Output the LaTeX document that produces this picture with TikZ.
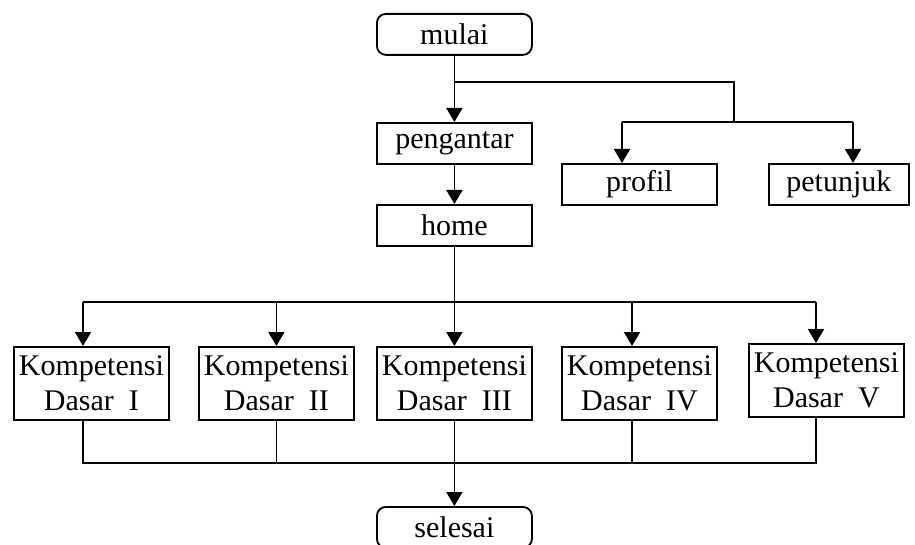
\documentclass[tikz,border=0pt]{standalone}
\usepackage{fontspec}
\setmainfont{Liberation Serif}
\usetikzlibrary{arrows.meta}
\begin{document}
\begin{tikzpicture}[x=1pt,y=-1pt,
  every node/.style={font=\fontsize{30}{35}\selectfont},
  box/.style={draw, line width=1.8pt, minimum width=155pt, minimum height=41pt,
    inner sep=0pt, anchor=north west, align=center},
  term/.style={box, rounded corners=9pt},
  kd/.style={box, minimum height=73pt},
  link/.style={line width=1.8pt},
  arr/.style={link, -{Triangle[length=14pt,width=16pt]}}]
\useasboundingbox (0,0) rectangle (915,545);

% nodes
\node[term] (mulai) at (376,13) {mulai};
\node[box] (pengantar) at (376,122) {pengantar};
\node[box] (home) at (376,204) {home};
\node[box] (profil) at (561,163) {profil};
\node[box, minimum width=140pt] (petunjuk) at (768,163) {petunjuk};
\node[kd] (kd1) at (13,346) {Kompetensi\\Dasar~~I};
\node[kd] (kd2) at (198,346) {Kompetensi\\Dasar~~II};
\node[kd] (kd3) at (376,346) {Kompetensi\\Dasar~~III};
\node[kd] (kd4) at (561,346) {Kompetensi\\Dasar~~IV};
\node[kd] (kd5) at (748,343) {Kompetensi\\Dasar~~V};
\node[term] (selesai) at (376,506) {selesai};

% junction points
\coordinate (b1) at (453.5,82);
\coordinate (b2) at (734,82);
\coordinate (b3) at (734,122);
\coordinate (bl) at (622,122);
\coordinate (br) at (853,122);
\coordinate (hl) at (83,302);
\coordinate (hr) at (816,302);
\coordinate (h4) at (632,302);
\coordinate (jl) at (83,463);
\coordinate (jr) at (816,463);
\coordinate (j4) at (632,463);

% top part
\draw[arr] (mulai) -- (pengantar);
\draw[link] (b1) -- (b2) -- (b3);
\draw[link] (bl) -- (br);
\draw[arr] (bl) -- (bl |- profil.north);
\draw[arr] (br) -- (br |- petunjuk.north);
\draw[arr] (pengantar) -- (home);

% distribution to the five Kompetensi Dasar boxes
\draw[arr] (home) -- (kd3);
\draw[link] (hl) -- (hr);
\draw[arr] (hl) -- (hl |- kd1.north);
\draw[arr] (kd2.north |- hl) -- (kd2.north);
\draw[arr] (h4) -- (h4 |- kd4.north);
\draw[arr] (hr) -- (hr |- kd5.north);

% collection to selesai
\draw[link] (jl |- kd1.south) -- (jl) -- (jr) -- (jr |- kd5.south);
\draw[link] (kd2.south) -- (kd2.south |- jl);
\draw[link] (j4 |- kd4.south) -- (j4);
\draw[arr] (kd3) -- (selesai);
\end{tikzpicture}
\end{document}
